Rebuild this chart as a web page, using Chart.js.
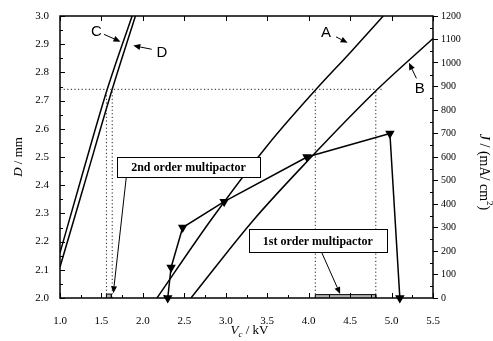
<!DOCTYPE html>
<html>
<head>
<meta charset="utf-8">
<script src="https://cdn.jsdelivr.net/npm/chart.js@4.4.1/dist/chart.umd.min.js"></script>
<style>
  html, body { margin: 0; padding: 0; background: #fff; }
  #wrap { width: 493px; height: 341px; }
</style>
</head>
<body>
<div id="wrap"><canvas id="myChart"></canvas></div>
<script>
// D (mm) versus Vc (kV)
const aV = [2.17, 2.83, 3.5, 4.09, 4.5, 4.9];
const aD = [2.0, 2.28, 2.54, 2.74, 2.87, 3.0];
const bV = [2.58, 3.33, 4.0, 4.83, 5.5];
const bD = [2.0, 2.275, 2.49, 2.74, 2.92];
const cV = [1.0, 1.3, 1.57, 1.87];
const cD = [2.16, 2.47, 2.74, 3.0];
const dV = [1.0, 1.3, 1.63, 1.91];
const dD = [2.11, 2.41, 2.74, 3.0];

// J (mA/cm2) versus Vc, triangle series
const jV = [2.30, 2.34, 2.48, 2.98, 3.98, 4.98, 5.10];
const jJ = [0, 130, 300, 410, 600, 700, 0];

// guide lines and multipactor ranges
const guideD = 2.74;
const guideEnd = 4.9;
const guideV = [1.56, 1.63, 4.08, 4.81];
const range2nd = [1.56, 1.62];
const range1st = [4.08, 4.81];

const xTicks = [1.0, 1.5, 2.0, 2.5, 3.0, 3.5, 4.0, 4.5, 5.0, 5.5];

const pts = (xs, ys) => xs.map((v, i) => ({x: v, y: ys[i]}));

const serif = "'Liberation Serif', 'Times New Roman', serif";
const sans = "'Liberation Sans', Arial, sans-serif";

function curve(xs, ys) {
  return {
    data: pts(xs, ys), showLine: true, pointRadius: 0,
    borderColor: '#000', borderWidth: 1.5, cubicInterpolationMode: 'monotone'
  };
}
function dotted(data) {
  return {
    data: data, showLine: true, pointRadius: 0,
    borderColor: '#222', borderWidth: 1, borderDash: [1.2, 2.4]
  };
}
function rangeBox(r, top) {
  return {
    data: [{x: r[0], y: 2.0}, {x: r[0], y: top}, {x: r[1], y: top}, {x: r[1], y: 2.0}],
    showLine: true, pointRadius: 0, borderColor: '#000', borderWidth: 1,
    backgroundColor: '#b4b4b4', fill: 'start'
  };
}

const datasets = [
  dotted([{x: 1.0, y: guideD}, {x: guideEnd, y: guideD}]),
  ...guideV.map(v => dotted([{x: v, y: 2.0}, {x: v, y: guideD}])),
  rangeBox(range2nd, 2.014),
  rangeBox(range1st, 2.012),
  curve(aV, aD), curve(bV, bD), curve(cV, cD), curve(dV, dD),
  {
    data: pts(jV, jJ), yAxisID: 'y2', showLine: true,
    borderColor: '#000', borderWidth: 1.5,
    pointStyle: 'triangle', rotation: 180, pointRadius: 4,
    pointBackgroundColor: '#000', pointBorderColor: '#000', clip: false
  }
];

// annotation text placed in data units
const letters = [
  {t: 'A', v: 4.21, d: 2.94, from: [4.33, 2.926], to: [4.47, 2.905]},
  {t: 'B', v: 5.34, d: 2.741, from: [5.30, 2.779], to: [5.21, 2.834]},
  {t: 'C', v: 1.44, d: 2.942, from: [1.53, 2.935], to: [1.73, 2.909]},
  {t: 'D', v: 2.23, d: 2.868, from: [2.106, 2.882], to: [1.884, 2.895]}
];
const boxes = [
  {t: '2nd order multipactor', v0: 1.69, v1: 3.41, d0: 2.50, d1: 2.429, from: [1.80, 2.429], to: [1.643, 2.017]},
  {t: '1st order multipactor', v0: 3.28, v1: 4.94, d0: 2.245, d1: 2.163, from: [4.155, 2.163], to: [4.38, 2.014]}
];

function arrow(ctx, x1, y1, x2, y2) {
  const a = Math.atan2(y2 - y1, x2 - x1);
  const L = 7, W = 3;
  ctx.beginPath();
  ctx.moveTo(x1, y1);
  ctx.lineTo(x2 - L * Math.cos(a), y2 - L * Math.sin(a));
  ctx.stroke();
  ctx.beginPath();
  ctx.moveTo(x2, y2);
  ctx.lineTo(x2 - L * Math.cos(a) - W * Math.sin(a), y2 - L * Math.sin(a) + W * Math.cos(a));
  ctx.lineTo(x2 - L * Math.cos(a) + W * Math.sin(a), y2 - L * Math.sin(a) - W * Math.cos(a));
  ctx.closePath();
  ctx.fill();
}

// draws one line of mixed-style text pieces centered at 0,0
function mixed(ctx, parts) {
  let w = 0;
  parts.forEach(p => { ctx.font = p.f; p.w = ctx.measureText(p.s).width; w += p.w; });
  let x = -w / 2;
  parts.forEach(p => { ctx.font = p.f; ctx.fillText(p.s, x, p.dy || 0); x += p.w; });
}

const framePlugin = {
  id: 'frame',
  afterDraw(chart) {
    const {ctx, chartArea: ca, scales} = chart;
    const xs = scales.x, ys = scales.y, y2 = scales.y2;
    ctx.save();
    ctx.strokeStyle = '#000';
    ctx.fillStyle = '#000';
    ctx.lineWidth = 1.5;
    ctx.strokeRect(ca.left, ca.top, ca.right - ca.left, ca.bottom - ca.top);

    ctx.lineWidth = 1;
    ctx.beginPath();
    for (let v = 1.0; v <= 5.501; v += 0.25) {
      const px = Math.round(xs.getPixelForValue(v)) + 0.5;
      const major = Math.abs(v * 2 - Math.round(v * 2)) < 1e-6;
      ctx.moveTo(px, ca.bottom);
      ctx.lineTo(px, ca.bottom - (major ? 5 : 3));
      if (major) { ctx.moveTo(px, ca.top); ctx.lineTo(px, ca.top + 5); }
    }
    for (let d = 2.0; d <= 3.0001; d += 0.05) {
      const py = Math.round(ys.getPixelForValue(d)) + 0.5;
      const major = Math.abs(d * 10 - Math.round(d * 10)) < 1e-6;
      ctx.moveTo(ca.left, py);
      ctx.lineTo(ca.left + (major ? 5 : 3), py);
    }
    for (let j = 50; j < 1200; j += 100) {
      const py = Math.round(y2.getPixelForValue(j)) + 0.5;
      ctx.moveTo(ca.right, py);
      ctx.lineTo(ca.right - 3, py);
    }
    ctx.stroke();

    // axis titles
    ctx.textBaseline = 'middle';
    ctx.textAlign = 'left';
    ctx.save();
    ctx.translate(ca.left - 41, (ca.top + ca.bottom) / 2);
    ctx.rotate(-Math.PI / 2);
    mixed(ctx, [{s: 'D', f: 'italic 13px ' + serif}, {s: ' / mm', f: '13px ' + serif}]);
    ctx.restore();

    ctx.save();
    ctx.translate((ca.left + ca.right) / 2 + 3, ca.bottom + 33);
    mixed(ctx, [{s: 'V', f: 'italic 13px ' + serif}, {s: 'c', f: 'italic 9px ' + serif, dy: 4},
                {s: ' / kV', f: '13px ' + serif}]);
    ctx.restore();

    ctx.save();
    ctx.translate(ca.right + 51, (ca.top + ca.bottom) / 2 + 15);
    ctx.rotate(Math.PI / 2);
    mixed(ctx, [{s: 'J', f: 'italic 14px ' + serif}, {s: ' / (mA/ cm', f: '14px ' + serif},
                {s: '2', f: '9px ' + serif, dy: -5}, {s: ')', f: '14px ' + serif}]);
    ctx.restore();

    // curve letters
    ctx.textAlign = 'center';
    ctx.font = '15px ' + sans;
    ctx.lineWidth = 1;
    letters.forEach(l => {
      ctx.fillText(l.t, xs.getPixelForValue(l.v), ys.getPixelForValue(l.d));
      arrow(ctx, xs.getPixelForValue(l.from[0]), ys.getPixelForValue(l.from[1]),
            xs.getPixelForValue(l.to[0]), ys.getPixelForValue(l.to[1]));
    });

    // multipactor boxes
    ctx.font = 'bold 12px ' + serif;
    boxes.forEach(b => {
      const x0 = xs.getPixelForValue(b.v0), x1 = xs.getPixelForValue(b.v1);
      const y0 = ys.getPixelForValue(b.d0), y1 = ys.getPixelForValue(b.d1);
      ctx.fillStyle = '#fff';
      ctx.fillRect(x0, y0, x1 - x0, y1 - y0);
      ctx.fillStyle = '#000';
      ctx.strokeRect(Math.round(x0) + 0.5, Math.round(y0) + 0.5, Math.round(x1 - x0), Math.round(y1 - y0));
      ctx.fillText(b.t, (x0 + x1) / 2, (y0 + y1) / 2 + 1);
      arrow(ctx, xs.getPixelForValue(b.from[0]), ys.getPixelForValue(b.from[1]),
            xs.getPixelForValue(b.to[0]), ys.getPixelForValue(b.to[1]));
    });
    ctx.restore();
  }
};

const tickFont = {family: serif, size: 11};

const ctx = document.getElementById('myChart').getContext('2d');
const myChart = new Chart(ctx, {
  type: 'scatter',
  data: {datasets: datasets},
  options: {
    responsive: true,
    maintainAspectRatio: false,
    animation: false,
    layout: {padding: {top: 16, left: 0, right: 0, bottom: 0}},
    scales: {
      x: {
        type: 'linear', min: 1.0, max: 5.5,
        afterBuildTicks: s => { s.ticks = xTicks.map(v => ({value: v})); },
        afterFit: s => { s.height = 43; },
        grid: {display: false}, border: {display: false},
        ticks: {color: '#000', font: tickFont, padding: 9, maxRotation: 0, autoSkip: false,
                callback: v => v.toFixed(1)}
      },
      y: {
        position: 'left', min: 2.0, max: 3.0,
        afterFit: s => { s.width = 60; },
        grid: {display: false}, border: {display: false},
        ticks: {color: '#000', font: tickFont, stepSize: 0.1, padding: 3, autoSkip: false,
                callback: v => v.toFixed(1)}
      },
      y2: {
        position: 'right', min: 0, max: 1200,
        afterFit: s => { s.width = 60; },
        grid: {drawOnChartArea: false, drawTicks: true, tickLength: 5, color: '#000'},
        border: {display: false},
        ticks: {color: '#000', font: {family: serif, size: 10}, stepSize: 100, padding: 3, autoSkip: false,
                callback: v => String(v)}
      }
    },
    plugins: {
      legend: {display: false},
      tooltip: {enabled: false}
    }
  },
  plugins: [framePlugin]
});
</script>
</body>
</html>
